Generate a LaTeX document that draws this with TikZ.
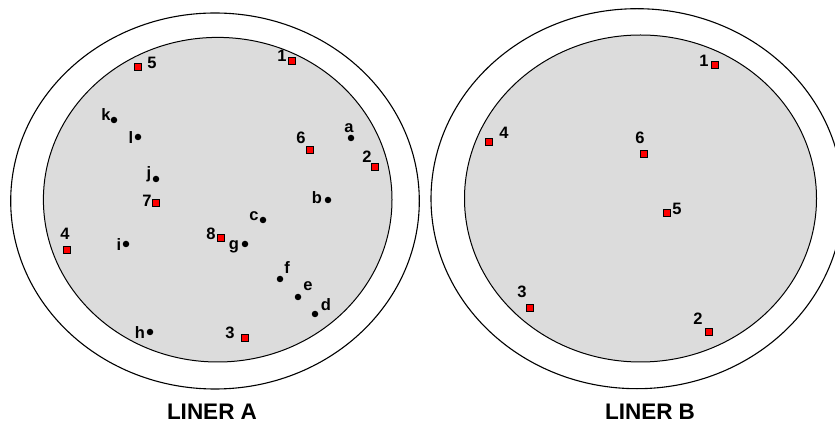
\documentclass[tikz,border=0pt]{standalone}
\usepackage{fontspec}
\setmainfont{Liberation Sans}
\begin{document}
\begin{tikzpicture}[x=1pt,y=1pt,
  rim/.style={draw=black,line width=1.1pt,fill=white},
  core/.style={draw=black,line width=1pt,fill=linergray},
  sq/.style={rectangle,draw=black,fill=red,minimum size=7pt,inner sep=0pt,line width=0.6pt},
  dotn/.style={circle,fill=black,minimum size=6.5pt,inner sep=0pt},
  lbl/.style={font=\fontsize{16.5}{18}\selectfont\bfseries,anchor=base,inner sep=0pt},
  ttl/.style={font=\fontsize{22.5}{26}\selectfont\bfseries,anchor=base,inner sep=0pt}]
\definecolor{linergray}{RGB}{220,220,220}
\useasboundingbox (0,0) rectangle (835,-427);
\clip (0,0) rectangle (835,-427);
% Liner A
\draw[rim] (215,-201) ellipse [x radius=204.3,y radius=188];
\draw[core] (217.7,-199.7) ellipse [x radius=174.3,y radius=162.3];
% Liner B
\draw[rim] (637,-198.7) ellipse [x radius=206,y radius=190];
\draw[core] (640.5,-198.5) ellipse [x radius=176,y radius=163.5];
% Liner A squares
\node[sq] (a1) at (292,-61) {};
\node[sq] (a5) at (138,-67) {};
\node[sq] (a6) at (310,-150) {};
\node[sq] (a2) at (375,-167) {};
\node[sq] (a7) at (156,-203) {};
\node[sq] (a4) at (67,-250) {};
\node[sq] (a8) at (221,-238) {};
\node[sq] (a3) at (245,-338) {};
\node[lbl] (la1) at (282,-61.7) {1};
\node[lbl] (la5) at (152,-69) {5};
\node[lbl] (la6) at (301,-143.5) {6};
\node[lbl] (la2) at (367,-162.5) {2};
\node[lbl] (la7) at (147,-206.5) {7};
\node[lbl] (la4) at (65,-239.5) {4};
\node[lbl] (la8) at (211,-240) {8};
\node[lbl] (la3) at (230,-338.5) {3};
% Liner A dots
\node[dotn] (da) at (351,-138) {};
\node[dotn] (db) at (328,-200) {};
\node[dotn] (dc) at (263,-220) {};
\node[dotn] (dg) at (245,-244) {};
\node[dotn] (df) at (280,-279) {};
\node[dotn] (de) at (298,-297) {};
\node[dotn] (dd) at (315,-314) {};
\node[dotn] (dh) at (150,-332) {};
\node[dotn] (di) at (126,-244) {};
\node[dotn] (dj) at (156,-179) {};
\node[dotn] (dk) at (114,-120) {};
\node[dotn] (dl) at (138,-137) {};
\node[lbl] (lda) at (349,-133) {a};
\node[lbl] (ldb) at (317,-203.5) {b};
\node[lbl] (ldc) at (254,-221) {c};
\node[lbl] (ldg) at (234,-250) {g};
\node[lbl] (ldf) at (287,-273.5) {f};
\node[lbl] (lde) at (308,-291) {e};
\node[lbl] (ldd) at (326,-310.5) {d};
\node[lbl] (ldh) at (140,-338.5) {h};
\node[lbl] (ldi) at (119,-250.5) {i};
\node[lbl] (ldj) at (149,-179) {j};
\node[lbl] (ldk) at (106,-120.5) {k};
\node[lbl] (ldl) at (131,-143.5) {l};
% Liner B squares
\node[sq] (b1) at (714.7,-65) {};
\node[sq] (b4) at (488.3,-142) {};
\node[sq] (b6) at (643.3,-154) {};
\node[sq] (b5) at (667,-213) {};
\node[sq] (b3) at (530,-308) {};
\node[sq] (b2) at (708.7,-332) {};
\node[lbl] (lb1) at (704,-66.5) {1};
\node[lbl] (lb4) at (504,-138.5) {4};
\node[lbl] (lb6) at (640,-143.5) {6};
\node[lbl] (lb5) at (677,-214.5) {5};
\node[lbl] (lb3) at (522,-297.5) {3};
\node[lbl] (lb2) at (698,-324.5) {2};
% Titles
\node[ttl] (ta) at (212,-419.3) {LINER A};
\node[ttl] (tb) at (650,-419.3) {LINER B};
\end{tikzpicture}
\end{document}
